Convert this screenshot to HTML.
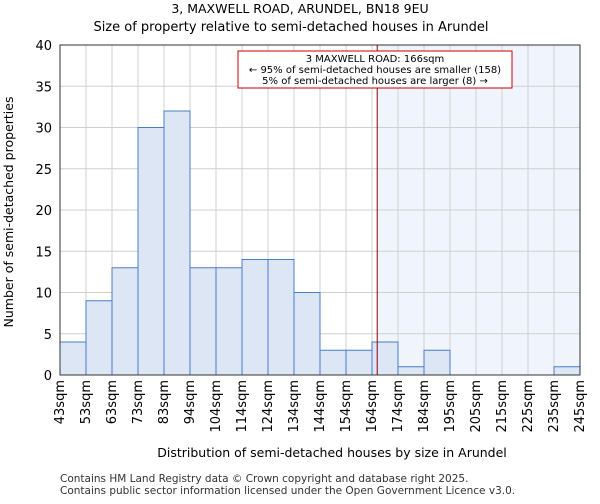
<!DOCTYPE html>
<html><head><meta charset="utf-8"><style>body{margin:0;background:#fff;font-family:"DejaVu Sans","Liberation Sans",sans-serif}</style></head>
<body>
<svg id="c" width="600" height="500" xmlns="http://www.w3.org/2000/svg" font-family="DejaVu Sans, Liberation Sans, sans-serif">
<text x="300" y="13" text-anchor="middle" font-size="12.5">3, MAXWELL ROAD, ARUNDEL, BN18 9EU</text>
<text x="291" y="31" text-anchor="middle" font-size="13">Size of property relative to semi-detached houses in Arundel</text>
<g id="plot"></g>
<text x="332" y="457" text-anchor="middle" font-size="12.5">Distribution of semi-detached houses by size in Arundel</text>
<text transform="translate(13,212) rotate(-90)" text-anchor="middle" font-size="12.5">Number of semi-detached properties</text>
<text x="60" y="482" font-size="10.5" fill="#333">Contains HM Land Registry data © Crown copyright and database right 2025.</text>
<text x="60" y="494" font-size="10.5" fill="#333">Contains public sector information licensed under the Open Government Licence v3.0.</text>
</svg>
<script>
const categories=["43sqm","53sqm","63sqm","73sqm","83sqm","94sqm","104sqm","114sqm","124sqm","134sqm","144sqm","154sqm","164sqm","174sqm","184sqm","195sqm","205sqm","215sqm","225sqm","235sqm","245sqm"];
const counts=[4,9,13,30,32,13,13,14,14,10,3,3,4,1,3,0,0,0,0,1];
const yTicks=[0,5,10,15,20,25,30,35,40];
const propertyBinPos=12.2;
const X0=60,X1=580,Y0=375,Y1=45,YMAX=40;
const bw=(X1-X0)/counts.length;
const x=i=>X0+i*bw, y=v=>Y0-(v/YMAX)*(Y0-Y1);
const NS="http://www.w3.org/2000/svg",g=document.getElementById('plot');
function mk(t,a){const e=document.createElementNS(NS,t);for(const k in a)e.setAttribute(k,a[k]);g.appendChild(e);return e;}
const hx=x(propertyBinPos);
let e=mk('rect',{x:hx,y:Y1,width:X1-hx,height:Y0-Y1,fill:'#f0f4fc'});


for(let i=0;i<=counts.length;i++){e=mk('line',{x1:x(i),x2:x(i),y1:Y1,y2:Y0,stroke:'#d0d0d0','stroke-width':1});

}
yTicks.forEach(v=>{e=mk('line',{x1:X0,x2:X1,y1:y(v),y2:y(v),stroke:'#d0d0d0','stroke-width':1});


const t=mk('text',{x:X0-8,y:y(v)+5,'text-anchor':'end','font-size':13});t.textContent=v;

});
counts.forEach((c,i)=>{if(c<=0)return;e=mk('rect',{x:x(i),y:y(c),width:bw,height:Y0-y(c),fill:'#dce6f5',stroke:'#4a7cc9','stroke-width':1});

});
categories.forEach((c,i)=>{const t=mk('text',{transform:`translate(${x(i)+4},380) rotate(-90)`,'text-anchor':'end','font-size':13});t.textContent=c;

});
e=mk('rect',{x:X0,y:Y1,width:X1-X0,height:Y0-Y1,fill:'none',stroke:'#333','stroke-width':1});


e=mk('line',{x1:hx,x2:hx,y1:Y1,y2:Y0,stroke:'#8b0000','stroke-width':1});


e=mk('rect',{x:238,y:51,width:274,height:37,fill:'#fff',stroke:'#c00','stroke-width':1});


["3 MAXWELL ROAD: 166sqm","← 95% of semi-detached houses are smaller (158)","5% of semi-detached houses are larger (8) →"].forEach((s,k)=>{const t=mk('text',{x:375,y:62+k*11,'text-anchor':'middle','font-size':10});t.textContent=s;

});
</script>
</body></html>
